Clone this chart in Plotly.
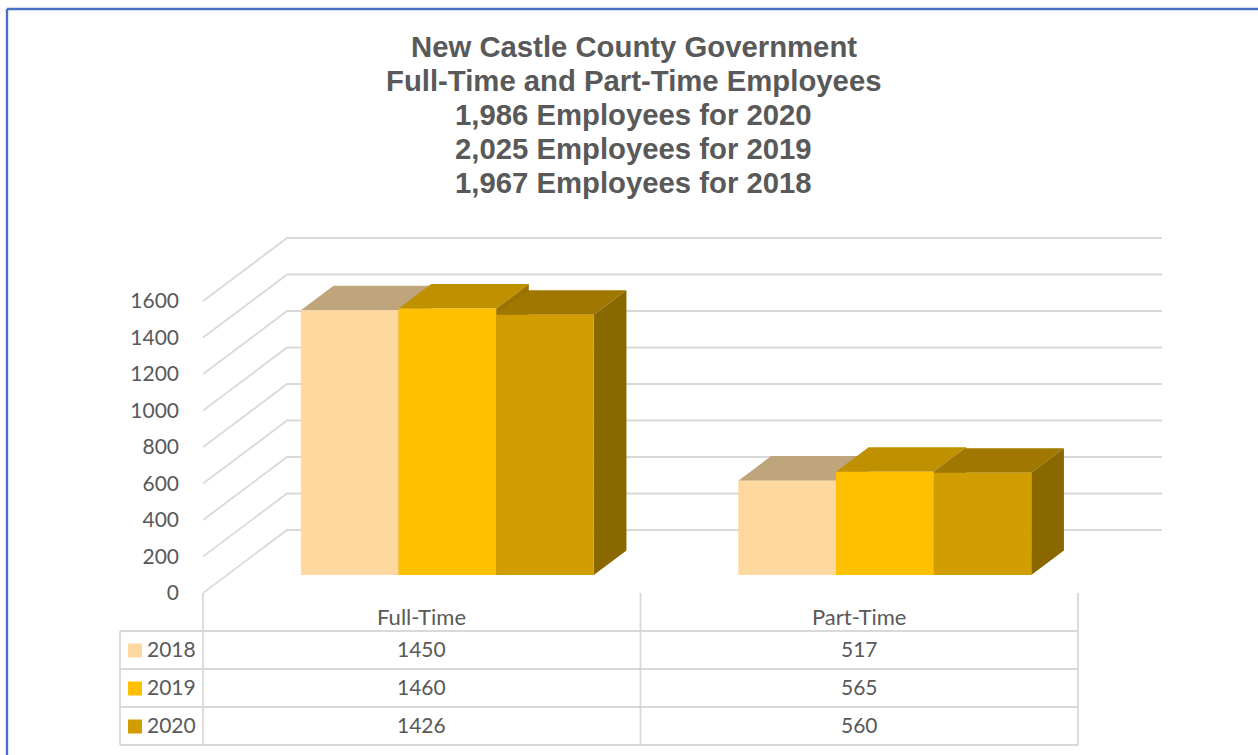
import plotly.graph_objects as go

# Chart content
title_lines = [
    "New Castle County Government",
    "Full-Time and Part-Time Employees",
    "1,986 Employees for 2020",
    "2,025 Employees for 2019",
    "1,967 Employees for 2018",
]
categories = ["Full-Time", "Part-Time"]
years = ["2018", "2019", "2020"]
values_2018 = [1450, 517]
values_2019 = [1460, 565]
values_2020 = [1426, 560]
y_ticks = [0, 200, 400, 600, 800, 1000, 1200, 1400, 1600]

series_values = [values_2018, values_2019, values_2020]
front_colors = ["#FFD8A0", "#FFC000", "#D29D00"]
top_colors = ["#BFA57C", "#BF9000", "#A07700"]
side_colors = ["#A68C66", "#9A7300", "#8A6800"]

W, H = 1258, 755
TEXT = "#595959"
GRID = "#D9D9D9"
BORDER = "#4472C4"

# Scale of the pseudo-3D plot: pixels per category and pixels per value
PX_PER_CAT = 437.5
PX_PER_VAL = 0.1825
X0_PX, Y0_PX = 203, 593

# A unit of depth moves a point right (in categories) and up (in value units)
DEPTH_X = 84 / PX_PER_CAT
DEPTH_Y = 63 / PX_PER_VAL
BAR_FRONT = 0.286
BAR_BACK = 0.675
BAR_W = 0.2232
GROUP_START = (1 - 3 * BAR_W) / 2 + 0.0035

x_range = [0, (W - X0_PX) / PX_PER_CAT]
y_range = [-(H - Y0_PX) / PX_PER_VAL, Y0_PX / PX_PER_VAL]


def project(cat_x, value, depth):
    """Map a (category, value, depth) point to the flat axis coordinates."""
    return cat_x + depth * DEPTH_X, value + depth * DEPTH_Y


def polygon(points):
    xs, ys = zip(*[project(*p) for p in points])
    return list(xs) + [xs[0]], list(ys) + [ys[0]]


def paper_x(px):
    return px / W


def paper_y(px):
    return 1 - px / H


fig = go.Figure()

# Side wall and back wall gridlines
grid_x, grid_y = [], []
for t in y_ticks:
    for c, d in [(0, 0), (0, 1), (len(categories), 1)]:
        x, y = project(c, t, d)
        grid_x.append(x)
        grid_y.append(y)
    grid_x.append(None)
    grid_y.append(None)
fig.add_trace(go.Scatter(x=grid_x, y=grid_y, mode="lines", cliponaxis=False,
                         line=dict(color=GRID, width=1.8), hoverinfo="skip"))

# Top and side faces of each box, painted left to right
for s, vals in enumerate(series_values):
    for c, v in enumerate(vals):
        left = c + GROUP_START + s * BAR_W
        right = left + BAR_W
        xs, ys = polygon([(left, v, BAR_FRONT), (right, v, BAR_FRONT),
                          (right, v, BAR_BACK), (left, v, BAR_BACK)])
        fig.add_trace(go.Scatter(x=xs, y=ys, mode="lines", fill="toself",
                                 fillcolor=top_colors[s], line=dict(width=0),
                                 hoverinfo="skip"))
        xs, ys = polygon([(right, 0, BAR_FRONT), (right, v, BAR_FRONT),
                          (right, v, BAR_BACK), (right, 0, BAR_BACK)])
        fig.add_trace(go.Scatter(x=xs, y=ys, mode="lines", fill="toself",
                                 fillcolor=side_colors[s], line=dict(width=0),
                                 hoverinfo="skip"))

# Front faces sit on an overlaid subplot so they cover the faces behind them
base_x, base_y = project(0, 0, BAR_FRONT)
for s, vals in enumerate(series_values):
    fig.add_trace(go.Bar(
        x=[c + base_x for c in range(len(categories))],
        y=vals,
        base=base_y,
        width=BAR_W,
        offset=GROUP_START + s * BAR_W,
        name=years[s],
        marker=dict(color=front_colors[s], line=dict(width=0)),
        xaxis="x2",
        yaxis="y2",
    ))

shapes = []


def add_line(x0, y0, x1, y1, color=GRID, width=1.8):
    shapes.append(dict(type="line", xref="paper", yref="paper", layer="below",
                       x0=paper_x(x0), y0=paper_y(y0), x1=paper_x(x1), y1=paper_y(y1),
                       line=dict(color=color, width=width)))


# Outer frame: only the left and top edges fall inside the page
add_line(7, 9, 7, H, BORDER, 2.4)
add_line(7, 9, W, 9, BORDER, 2.4)

# Data table rules
table_left, table_right = 120, X0_PX + PX_PER_CAT * len(categories)
row_lines = [631, 669, 707, 745]
for y in row_lines:
    add_line(table_left, y, table_right, y)
add_line(table_left, row_lines[0], table_left, row_lines[-1])
for c in range(len(categories) + 1):
    vx = X0_PX + PX_PER_CAT * c
    add_line(vx, Y0_PX, vx, row_lines[-1])

annotations = []


def add_text(text, x, y, size=21, family="Lato", bold=False):
    annotations.append(dict(
        text=f"<b>{text}</b>" if bold else text,
        xref="paper", yref="paper", x=paper_x(x), y=paper_y(y),
        xanchor="center", yanchor="middle", showarrow=False,
        font=dict(family=family, size=size, color=TEXT),
    ))


for i, line in enumerate(title_lines):
    add_text(line, 634, 47 + i * 33.75, size=29.3, family="Liberation Sans", bold=True)

for c, name in enumerate(categories):
    cx = X0_PX + PX_PER_CAT * (c + 0.5)
    add_text(name, cx, 616, size=22)
    for s, vals in enumerate(series_values):
        add_text(str(vals[c]), cx, (row_lines[s] + row_lines[s + 1]) / 2 - 1.5)

# Legend keys and year labels in the first table column
for s, year in enumerate(years):
    mid = (row_lines[s] + row_lines[s + 1]) / 2 + 0.5
    shapes.append(dict(type="rect", xref="paper", yref="paper",
                       x0=paper_x(128), x1=paper_x(142),
                       y0=paper_y(mid - 7), y1=paper_y(mid + 7),
                       fillcolor=front_colors[s], line=dict(width=0)))
    add_text(year, 171, mid - 2)

domain_x = [X0_PX / W, 1]
fig.update_layout(
    width=W,
    height=H,
    margin=dict(l=0, r=0, t=0, b=0),
    paper_bgcolor="white",
    plot_bgcolor="white",
    showlegend=False,
    barmode="overlay",
    shapes=shapes,
    annotations=annotations,
    xaxis=dict(domain=domain_x, range=x_range, visible=False, fixedrange=True),
    yaxis=dict(
        domain=[0, 1], range=y_range, tickvals=y_ticks, showgrid=False, zeroline=False,
        showline=False, ticks="", ticklabelstandoff=23, fixedrange=True,
        tickfont=dict(family="Lato", size=21, color=TEXT),
    ),
    xaxis2=dict(domain=domain_x, range=x_range, visible=False, overlaying="x",
                anchor="y2", fixedrange=True),
    yaxis2=dict(domain=[0, 1], range=y_range, visible=False, overlaying="y",
                anchor="x2", fixedrange=True),
)

fig.write_html("out.html")
